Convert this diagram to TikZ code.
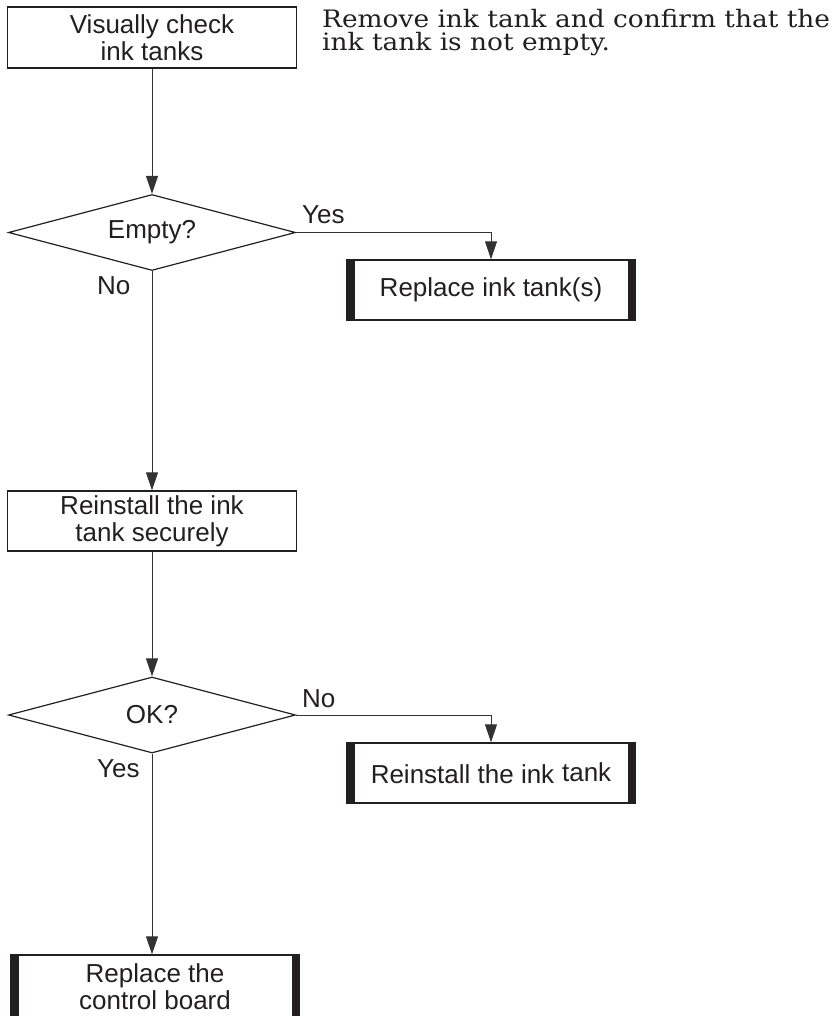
\documentclass[tikz,border=0pt]{standalone}
\usepackage{fontspec}
\setmainfont{Liberation Sans}
\newfontfamily\notefont[FakeStretch=1.1]{DejaVu Serif}
\usetikzlibrary{shapes.geometric,arrows.meta}
\definecolor{ink}{HTML}{231F20}
\definecolor{wire}{HTML}{333333}

\begin{document}
\begin{tikzpicture}[x=1pt, y=-1pt, font=\fontsize{26}{27}\selectfont, text=ink,
    proc/.style={draw=ink, line width=1.4pt, minimum width=289pt, minimum height=60pt, inner sep=0pt, align=center},
    fix/.style={proc, path picture={
        \fill[ink] (path picture bounding box.north west) rectangle ([xshift=8pt]path picture bounding box.south west);
        \fill[ink] (path picture bounding box.north east) rectangle ([xshift=-8pt]path picture bounding box.south east);}},
    ask/.style={draw=ink, line width=1.2pt, shape=diamond, aspect=4, minimum width=287pt, minimum height=76pt, inner sep=0pt},
    link/.style={draw=wire, line width=1pt, -{Triangle[length=18pt, width=12pt]}},
    tag/.style={anchor=base west, inner sep=0pt}]

  \useasboundingbox (0,0) rectangle (834,1016);

  % top: visual check and note
  \node[proc, minimum height=61pt] (check) at (152,37.5) {Visually check\\ink tanks};
  \node[anchor=north west, align=left, inner sep=0pt, font=\notefont\fontsize{24}{23.5}\selectfont] (note) at (322,9)
    {Remove ink tank and confirm that the\\ink tank is not empty.};

  % first decision
  \node[ask] (empty) at (152,232.5) {Empty?};
  \node[fix] (swap) at (491,290) {Replace ink tank(s)};
  \node[tag] (yes1) at (302,223) {Yes};
  \node[tag] (no1) at (97,294) {No};

  % reinstall and second decision
  \node[proc] (secure) at (152,521) {Reinstall the ink\\tank securely};
  \node[ask] (ok) at (152,715) {OK?};
  \node[fix] (again) at (491,773) {Reinstall the ink\hspace{0.3em}\raisebox{2pt}{tank}};
  \node[tag] (no2) at (302,707) {No};
  \node[tag] (yes2) at (97,777) {Yes};

  % last step, cut at the page edge
  \node[fix, minimum height=64pt] (board) at (155,987) {Replace the\\control board};

  % arrows
  \draw[link] (check) -- (empty);
  \draw[link] (empty.east) -| (swap.north);
  \draw[link] (empty) -- (secure);
  \draw[link] (secure) -- (ok);
  \draw[link] (ok.east) -| (again.north);
  \draw[link] (ok.south) -- (ok.south |- board.north);
\end{tikzpicture}
\end{document}
